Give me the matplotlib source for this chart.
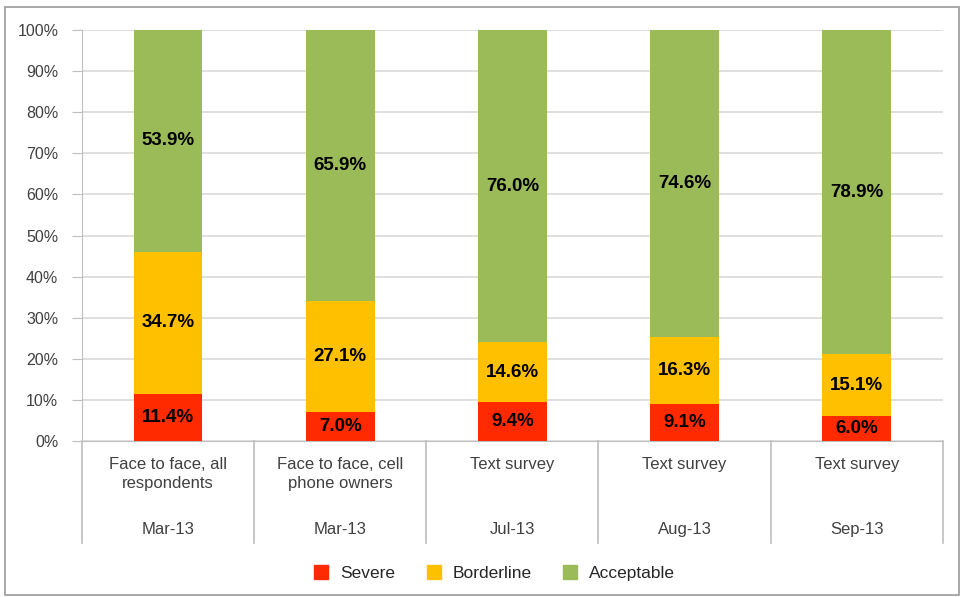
import matplotlib.pyplot as plt
import numpy as np
from matplotlib.patches import Rectangle
from matplotlib.lines import Line2D

# data
methods = ["Face to face, all\nrespondents", "Face to face, cell\nphone owners",
           "Text survey", "Text survey", "Text survey"]
dates = ["Mar-13", "Mar-13", "Jul-13", "Aug-13", "Sep-13"]
severe = [11.4, 7.0, 9.4, 9.1, 6.0]
borderline = [34.7, 27.1, 14.6, 16.3, 15.1]
acceptable = [53.9, 65.9, 76.0, 74.6, 78.9]

series = [("Severe", severe, "#FF2A00"),
          ("Borderline", borderline, "#FFC000"),
          ("Acceptable", acceptable, "#9BBB59")]

plt.rcParams['font.family'] = ['Liberation Sans', 'DejaVu Sans']

fig = plt.figure(figsize=(9.64, 5.97), dpi=100)
ax = fig.add_axes([0.085, 0.2613, 0.893, 0.6884])

x = np.arange(len(methods))
bottom = np.zeros(len(methods))
for name, vals, col in series:
    vals = np.array(vals)
    ax.bar(x, vals, 0.4, bottom=bottom, color=col, zorder=3, label=name)
    for xi, b, v in zip(x, bottom, vals):
        ax.text(xi, b + v / 2, f"{v:.1f}%", ha='center', va='center',
                fontsize=13.5, fontweight='bold', color='black', zorder=4)
    bottom += vals

ax.set_xlim(-0.5, len(methods) - 0.5)
ax.set_ylim(0, 100)
ax.set_yticks(np.arange(0, 101, 10))
ax.set_yticklabels([f"{v}%" for v in range(0, 101, 10)], fontsize=11.5, color='#404040')
ax.set_xticks([])
ax.grid(axis='y', color='#D9D9D9', linewidth=1.2, zorder=0)
ax.tick_params(axis='y', length=7, color='#BFBFBF', pad=10)
for s in ['top', 'right']:
    ax.spines[s].set_visible(False)
ax.spines['left'].set_color('#BFBFBF')
ax.spines['bottom'].set_color('#BFBFBF')

# two-level category axis
for b in np.arange(-0.5, len(methods), 1.0):
    ax.plot([b, b], [0, -0.248], transform=ax.get_xaxis_transform(),
            color='#BFBFBF', linewidth=1.2, clip_on=False)
for xi, m, d in zip(x, methods, dates):
    ax.text(xi, -0.04, m, transform=ax.get_xaxis_transform(), ha='center', va='top',
            fontsize=12, color='#404040', linespacing=1.3)
    ax.text(xi, -0.216, d, transform=ax.get_xaxis_transform(), ha='center', va='center',
            fontsize=12, color='#404040')

handles = [Line2D([0], [0], marker='s', linestyle='', markersize=10,
                  markerfacecolor=c, markeredgecolor=c) for _, _, c in series]
fig.legend(handles, [n for n, _, _ in series], loc='center', ncol=3,
           bbox_to_anchor=(0.508, 0.04), frameon=False, fontsize=12.5,
           handletextpad=0.1, columnspacing=1.2, labelcolor='#262626')

fig.patches.append(Rectangle((0.005, 0.003), 0.99, 0.985, transform=fig.transFigure,
                             fill=False, edgecolor='#9A9A9A', linewidth=1.2))

fig.savefig("out.png", dpi=100)
